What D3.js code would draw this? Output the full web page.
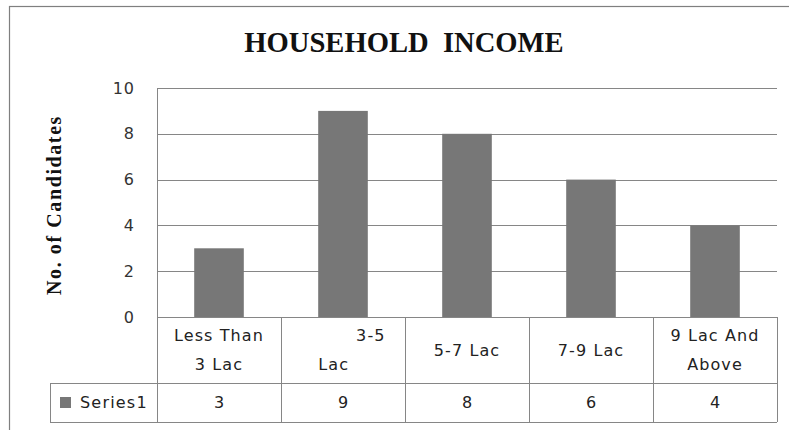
<!DOCTYPE html>
<html><head><meta charset="utf-8">
<script src="https://cdn.jsdelivr.net/npm/d3@7"></script>
<style>
html,body{margin:0;padding:0;background:#fff;}
svg{display:block;}
</style></head>
<body>
<svg id="chart" width="789" height="430"></svg>
<script>
const categories = ["Less Than 3 Lac", "3-5 Lac", "5-7 Lac", "7-9 Lac", "9 Lac And Above"];
const categoryLines = [["Less Than", "3 Lac"], ["         3-5", "Lac   "], ["5-7 Lac"], ["7-9 Lac"], ["9 Lac And", "Above"]];
const seriesName = "Series1";
const series1 = [3, 9, 8, 6, 4];
const yTicks = [0, 2, 4, 6, 8, 10];
const titleText = "HOUSEHOLD  INCOME";
const yTitle = "No. of Candidates";

const svg = d3.select("#chart");
const L = 157, R = 777, T = 88, B = 317;
const rowMid = 383, rowBot = 422, legL = 50;
const lineCol = "#868686";
const barCol = "#777777";
const bodyFont = "'DejaVu Sans', Verdana, sans-serif";

// outer border
svg.append("rect").attr("x", 9.5).attr("y", 6.5).attr("width", 800).attr("height", 440)
  .attr("fill", "#fff").attr("stroke", "#7f7f7f").attr("stroke-width", 1.2);

const x = d3.scaleBand().domain(categories).range([L, R]).paddingInner(0.6).paddingOuter(0.3);
const y = d3.scaleLinear().domain([0, 10]).range([B, T]);

// gridlines
svg.append("g").selectAll("line").data(yTicks.filter(d => d > 0)).join("line")
  .attr("x1", L).attr("x2", R)
  .attr("y1", d => Math.round(y(d)) + 0.5).attr("y2", d => Math.round(y(d)) + 0.5)
  .attr("stroke", lineCol).attr("stroke-width", 1);

// y axis tick labels
const yAxis = d3.axisLeft(y).tickValues(yTicks).tickSize(0).tickPadding(22);
const yg = svg.append("g").attr("transform", `translate(${L},0)`).call(yAxis);
yg.select(".domain").remove();
yg.selectAll("text").attr("font-family", bodyFont).attr("font-size", 16).attr("fill", "#333")
  .attr("letter-spacing", 1);

// bars
svg.append("g").selectAll("rect").data(series1).join("rect")
  .attr("x", (d, i) => x(categories[i]))
  .attr("width", x.bandwidth())
  .attr("y", d => y(d))
  .attr("height", d => y(0) - y(d))
  .attr("fill", barCol);

// table lines
const tg = svg.append("g").attr("stroke", lineCol).attr("stroke-width", 1).attr("shape-rendering", "crispEdges");
tg.append("line").attr("x1", L).attr("x2", L).attr("y1", T).attr("y2", rowBot);
tg.append("line").attr("x1", L).attr("x2", R).attr("y1", B).attr("y2", B);
tg.append("line").attr("x1", legL).attr("x2", R).attr("y1", rowMid).attr("y2", rowMid);
tg.append("line").attr("x1", legL).attr("x2", R).attr("y1", rowBot).attr("y2", rowBot);
tg.append("line").attr("x1", legL).attr("x2", legL).attr("y1", rowMid).attr("y2", rowBot);
const step = x.step();
const bounds = categories.map((c, i) => x(c) + x.bandwidth() / 2 + step / 2);
tg.selectAll(".vb").data(bounds).join("line").attr("class", "vb")
  .attr("x1", d => d).attr("x2", d => d).attr("y1", B).attr("y2", rowBot);

// category labels
const cg = svg.append("g").attr("font-family", bodyFont).attr("font-size", 16).attr("fill", "#222")
  .attr("letter-spacing", 1.1).attr("text-anchor", "middle").style("white-space", "pre");
categories.forEach((c, i) => {
  const lines = categoryLines[i];
  const cx = x(c) + x.bandwidth() / 2;
  const mid = (B + rowMid) / 2;
  const lh = 29;
  lines.forEach((ln, j) => {
    cg.append("text").attr("x", cx).attr("y", mid + (j - (lines.length - 1) / 2) * lh)
      .attr("dy", "0.36em").attr("xml:space", "preserve").text(ln);
  });
});

// value row
const vg = svg.append("g").attr("font-family", bodyFont).attr("font-size", 16).attr("fill", "#222")
  .attr("text-anchor", "middle");
vg.selectAll("text").data(series1).join("text")
  .attr("x", (d, i) => x(categories[i]) + x.bandwidth() / 2)
  .attr("y", (rowMid + rowBot) / 2).attr("dy", "0.36em").text(d => d);

// legend key
svg.append("rect").attr("x", 60).attr("y", 397).attr("width", 11).attr("height", 11).attr("fill", barCol);
svg.append("text").attr("x", 80).attr("y", (rowMid + rowBot) / 2).attr("dy", "0.36em")
  .attr("font-family", bodyFont).attr("font-size", 16).attr("fill", "#222").attr("letter-spacing", 1.2)
  .text(seriesName);

// title
svg.append("text").attr("x", 404).attr("y", 52).attr("text-anchor", "middle")
  .attr("font-family", "'Liberation Serif', 'Times New Roman', serif").attr("font-size", 28.6)
  .attr("font-weight", "bold").attr("fill", "#111").style("white-space", "pre").attr("xml:space", "preserve")
  .text(titleText);

// y title
svg.append("text").attr("transform", "translate(61,205) rotate(-90)").attr("text-anchor", "middle")
  .attr("font-family", "'Liberation Serif', 'Times New Roman', serif").attr("font-size", 20)
  .attr("font-weight", "bold").attr("fill", "#111").attr("letter-spacing", 1.6)
  .text(yTitle);
</script>
</body></html>
